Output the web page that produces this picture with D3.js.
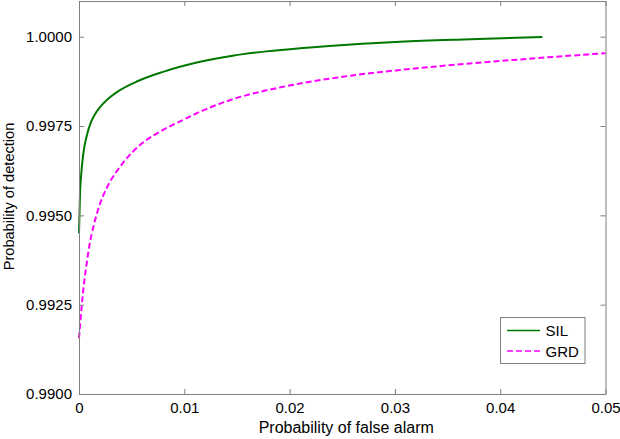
<!DOCTYPE html>
<html>
<head>
<meta charset="utf-8">
<script src="https://cdn.jsdelivr.net/npm/d3@7"></script>
<style>
  html, body { margin: 0; padding: 0; background: #fff; }
  svg { display: block; }
  text { font-family: "Liberation Sans", Arial, Helvetica, sans-serif; }
</style>
</head>
<body>
<svg id="chart" width="620" height="439"></svg>
<script>
// ---- data ----
const silX = [0, 0.0001, 0.0002, 0.0003, 0.0005, 0.0008, 0.0011, 0.0015, 0.002, 0.0028, 0.0037, 0.0056, 0.0079, 0.0115, 0.0146, 0.0178, 0.021, 0.0241, 0.0274, 0.0305, 0.0372, 0.044];
const silY = [0.99450, 0.99565, 0.99610, 0.99645, 0.99690, 0.99730, 0.99758, 0.99782, 0.99803, 0.99827, 0.99847, 0.99876, 0.99901, 0.99930, 0.99947, 0.99959, 0.99968, 0.99975, 0.99981, 0.99986, 0.99993, 0.99999];
const grdX = [0, 0.00025, 0.0005, 0.00075, 0.001, 0.0014, 0.0018, 0.0023, 0.0029, 0.0036, 0.0044, 0.0052, 0.006, 0.0079, 0.0098, 0.0118, 0.0146, 0.0178, 0.021, 0.0241, 0.0274, 0.0305, 0.04, 0.05];
const grdY = [0.99156, 0.99244, 0.99315, 0.99370, 0.99418, 0.99472, 0.99515, 0.99555, 0.99592, 0.99624, 0.99655, 0.99681, 0.99702, 0.99738, 0.99766, 0.99794, 0.99825, 0.99850, 0.99869, 0.99884, 0.99897, 0.99907, 0.99932, 0.99954];
const xTicks = [0, 0.01, 0.02, 0.03, 0.04, 0.05];
const xTickLabels = ["0", "0.01", "0.02", "0.03", "0.04", "0.05"];
const yTicks = [0.99, 0.9925, 0.995, 0.9975, 1.0];
const yTickLabels = ["0.9900", "0.9925", "0.9950", "0.9975", "1.0000"];
const seriesNames = ["SIL", "GRD"];
const seriesColors = ["#007800", "#ff00ff"];

// ---- layout ----
const pLeft = 79, pRight = 605.5, pTop = 1, pBottom = 394;
const x = d3.scaleLinear().domain([0, 0.05]).range([pLeft, pRight]);
const y = d3.scaleLinear().domain([0.99, 1.001]).range([pBottom, pTop]);

const svg = d3.select("#chart");
const axisColor = "#7f7f7f";
const tickLen = 5;

// curves
const line = d3.line().x(d => x(d[0])).y(d => y(d[1])).curve(d3.curveMonotoneX);
const sil = silX.map((v, i) => [v, silY[i]]);
const grd = grdX.map((v, i) => [v, grdY[i]]);

const plot = svg.append("g");
plot.append("path").datum(sil).attr("d", line)
  .attr("fill", "none").attr("stroke", seriesColors[0]).attr("stroke-width", 2);
plot.append("path").datum(grd).attr("d", line)
  .attr("fill", "none").attr("stroke", seriesColors[1]).attr("stroke-width", 2)
  .attr("stroke-dasharray", "6,3");

// axes (box with inward ticks)
const fmtX = d => xTickLabels[xTicks.indexOf(d)];
const fmtY = d => yTickLabels[yTicks.indexOf(d)];

function styleAxis(g) {
  g.selectAll("path.domain").attr("stroke", axisColor);
  g.selectAll(".tick line").attr("stroke", axisColor);
  g.selectAll(".tick text").attr("fill", "#000").attr("font-size", 15)
    .attr("font-family", "'Liberation Sans', Arial, Helvetica, sans-serif");
}

svg.append("g").attr("transform", `translate(0,${pBottom})`)
  .call(d3.axisBottom(x).tickValues(xTicks).tickFormat(fmtX).tickSizeInner(-tickLen).tickSizeOuter(0).tickPadding(8))
  .call(styleAxis);
svg.append("g").attr("transform", `translate(0,${pTop})`)
  .call(d3.axisTop(x).tickValues(xTicks).tickFormat("").tickSizeInner(-tickLen).tickSizeOuter(0))
  .call(styleAxis);
svg.append("g").attr("transform", `translate(${pLeft},0)`)
  .call(d3.axisLeft(y).tickValues(yTicks).tickFormat(fmtY).tickSizeInner(-tickLen).tickSizeOuter(0).tickPadding(7))
  .call(styleAxis);
svg.append("g").attr("transform", `translate(${pRight},0)`)
  .call(d3.axisRight(y).tickValues(yTicks).tickFormat("").tickSizeInner(-tickLen).tickSizeOuter(0))
  .call(styleAxis);

// axis titles
svg.append("text").attr("x", (pLeft + pRight) / 2 + 4).attr("y", 433)
  .attr("text-anchor", "middle").attr("font-size", 16).attr("fill", "#000")
  .text("Probability of false alarm");
svg.append("text").attr("transform", `translate(13.5,196.5) rotate(-90)`)
  .attr("text-anchor", "middle").attr("font-size", 14.6).attr("fill", "#000")
  .text("Probability of detection");

// legend
const lg = svg.append("g");
lg.append("rect").attr("x", 500.5).attr("y", 317.5).attr("width", 84.5).attr("height", 46)
  .attr("fill", "#fff").attr("stroke", axisColor).attr("stroke-width", 1);
seriesNames.forEach((name, i) => {
  const yy = 330.5 + i * 20.5;
  lg.append("line").attr("x1", 507).attr("x2", 540).attr("y1", yy).attr("y2", yy)
    .attr("stroke", seriesColors[i]).attr("stroke-width", 1.5)
    .attr("stroke-dasharray", i === 1 ? "6,3" : null);
  lg.append("text").attr("x", 545.5).attr("y", yy + 5.5).attr("font-size", 15).attr("fill", "#000").text(name);
});
</script>
</body>
</html>
